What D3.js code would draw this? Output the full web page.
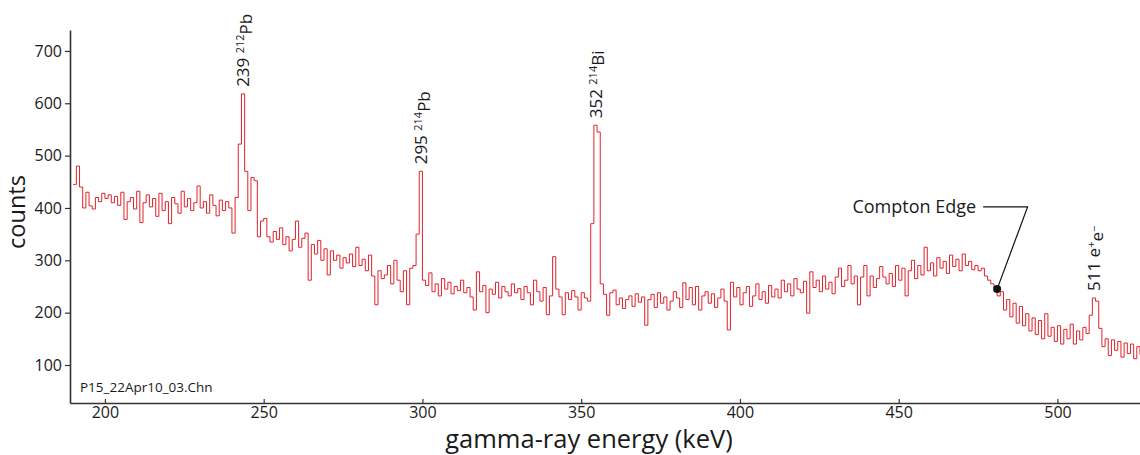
<!DOCTYPE html>
<html>
<head>
<meta charset="utf-8">
<script src="https://cdn.jsdelivr.net/npm/d3@7"></script>
<style>
  body { margin: 0; background: #fff; }
  text { font-family: "Open Sans", "Noto Sans", sans-serif; fill: #1a1a1a; }
</style>
</head>
<body>
<div id="chart"></div>
<script>
// spectrum: 1 keV bins, first bin starts at 190 keV
var startEnergy = 190;
var binWidth = 1;
var counts = [
  445, 480, 440, 400, 430, 404, 398, 420, 412, 428,  // 190
  418, 425, 410, 422, 405, 430, 378, 412, 420, 398,  // 200
  432, 372, 410, 425, 402, 418, 384, 428, 395, 412,  // 210
  370, 420, 408, 390, 432, 402, 418, 395, 410, 442,  // 220
  400, 412, 390, 425, 405, 385, 415, 395, 412, 400,  // 230
  352, 420, 522, 618, 470, 395, 458, 452, 345, 375,  // 240
  380, 345, 335, 355, 340, 362, 330, 345, 318, 340,  // 250
  375, 325, 342, 352, 262, 330, 312, 338, 300, 322,  // 260
  272, 318, 300, 310, 285, 305, 295, 312, 288, 325,  // 270
  290, 302, 280, 310, 270, 215, 280, 265, 272, 290,  // 280
  255, 300, 262, 240, 280, 215, 285, 290, 350, 470,  // 290
  262, 252, 276, 240, 255, 232, 265, 245, 258, 236,  // 300
  250, 242, 262, 238, 248, 230, 205, 278, 240, 252,  // 310
  200, 245, 235, 258, 228, 250, 240, 232, 255, 238,  // 320
  246, 225, 250, 238, 215, 262, 240, 222, 248, 196,  // 330
  232, 307, 245, 230, 196, 238, 225, 242, 230, 205,  // 340
  238, 228, 222, 370, 558, 545, 255, 235, 195, 238,  // 350
  243, 215, 228, 208, 225, 232, 212, 236, 220, 230,  // 360
  176, 225, 235, 210, 238, 218, 230, 205, 222, 240,  // 370
  228, 210, 257, 225, 248, 215, 250, 205, 232, 240,  // 380
  218, 236, 210, 228, 245, 222, 167, 258, 230, 248,  // 390
  215, 238, 250, 212, 232, 255, 225, 240, 218, 252,  // 400
  230, 245, 228, 262, 240, 255, 232, 265, 245, 238,  // 410
  260, 199, 278, 248, 262, 240, 270, 245, 258, 236,  // 420
  268, 285, 250, 262, 290, 255, 270, 215, 268, 290,  // 430
  232, 270, 248, 265, 288, 268, 255, 275, 250, 290,  // 440
  262, 285, 232, 280, 300, 265, 290, 272, 325, 280,  // 450
  295, 270, 305, 285, 298, 275, 310, 288, 302, 280,  // 460
  312, 290, 298, 282, 290, 280, 285, 270, 262, 255,  // 470
  248, 232, 240, 205, 225, 192, 218, 180, 212, 175,  // 480
  198, 165, 190, 158, 185, 150, 198, 155, 172, 145,  // 490
  175, 140, 168, 150, 178, 140, 165, 148, 172, 160,  // 500
  195, 228, 222, 170, 135, 150, 118, 148, 128, 145,  // 510
  115, 142, 122, 140, 112, 135, 120                  // 520
];

var xTicks = [200, 250, 300, 350, 400, 450, 500];
var yTicks = [100, 200, 300, 400, 500, 600, 700];

// peak labels: energy label, isotope mass, element, bin of the peak top
var peakNames = ["239", "295", "352", "511"];
var peakSups = ["212", "214", "214", null];
var peakElems = ["Pb", "Pb", "Bi", null];
var peakBins = [243, 299, 354, 511];

var comptonEdge = { energy: 481, counts: 245 };
var comptonElbow = { energy: 490.6, counts: 402 };
var comptonLabelEnd = { energy: 476.6, counts: 402 };

var W = 1140, H = 455;
var margin = { top: 30, right: 0, bottom: 52, left: 70 };

var svg = d3.select("#chart").append("svg")
  .attr("width", W)
  .attr("height", H);

var x = d3.scaleLinear().domain([189, 526]).range([margin.left, W - margin.right]);
var y = d3.scaleLinear().domain([27.4, 740]).range([H - margin.bottom, margin.top]);

var pts = counts.map(function(c, i) { return [startEnergy + i * binWidth, c]; });
pts.push([startEnergy + counts.length * binWidth, counts[counts.length - 1]]);

svg.append("defs").append("clipPath").attr("id", "plot")
  .append("rect")
  .attr("x", margin.left + 1).attr("y", 0)
  .attr("width", W - margin.left).attr("height", H - margin.bottom - 1);

var line = d3.line()
  .x(function(d) { return x(d[0]); })
  .y(function(d) { return y(d[1]); })
  .curve(d3.curveStepAfter);

svg.append("path")
  .datum(pts)
  .attr("clip-path", "url(#plot)")
  .attr("fill", "none")
  .attr("stroke", "#e0232b")
  .attr("stroke-width", 1)
  .attr("d", line);

// axes
var xAxis = d3.axisBottom(x).tickValues(xTicks).tickSize(-4).tickSizeOuter(0).tickPadding(4);
var yAxis = d3.axisLeft(y).tickValues(yTicks).tickSize(5).tickSizeOuter(0).tickPadding(3);

var gx = svg.append("g")
  .attr("transform", "translate(0," + (H - margin.bottom) + ")")
  .call(xAxis);
var gy = svg.append("g")
  .attr("transform", "translate(" + margin.left + ",0)")
  .call(yAxis);

[gx, gy].forEach(function(g) {
  g.select(".domain").attr("stroke", "#333").attr("stroke-width", 1.6);
  g.selectAll(".tick line").attr("stroke", "#333").attr("stroke-width", 1.2);
  g.selectAll(".tick text")
    .attr("fill", "#1a1a1a")
    .style("font-family", "'Open Sans', sans-serif")
    .style("font-size", "16px");
});

// axis titles
svg.append("text")
  .attr("x", 589)
  .attr("y", 448)
  .attr("text-anchor", "middle")
  .style("font-size", "25.5px")
  .text("gamma-ray energy (keV)");

svg.append("text")
  .attr("transform", "translate(25,212) rotate(-90)")
  .attr("text-anchor", "middle")
  .style("font-size", "23.5px")
  .text("counts");

svg.append("text")
  .attr("x", 80)
  .attr("y", 392)
  .attr("fill", "#333")
  .style("font-size", "13.5px")
  .text("P15_22Apr10_03.Chn");

// peak labels, rotated, above each peak
peakNames.forEach(function(name, i) {
  var b = peakBins[i];
  var px = x(b + binWidth / 2);
  var py = y(counts[b - startEnergy]) - 7;
  var t = svg.append("text")
    .attr("transform", "translate(" + px + "," + py + ") rotate(-90)")
    .attr("dy", "0.36em")
    .style("font-size", "17px");
  t.append("tspan").text(name + " ");
  if (peakSups[i]) {
    t.append("tspan").attr("dy", "-0.45em").style("font-size", "11px").text(peakSups[i]);
    t.append("tspan").attr("dy", "0.45em").text(peakElems[i]);
  } else {
    t.append("tspan").text("e");
    t.append("tspan").attr("dy", "-0.45em").style("font-size", "11px").text("+");
    t.append("tspan").attr("dy", "0.45em").text("e");
    t.append("tspan").attr("dy", "-0.45em").style("font-size", "11px").text("\u2212");
  }
});

// Compton edge annotation
svg.append("polyline")
  .attr("fill", "none")
  .attr("stroke", "#111")
  .attr("stroke-width", 1.2)
  .attr("points", [
    [x(comptonLabelEnd.energy), y(comptonLabelEnd.counts)],
    [x(comptonElbow.energy), y(comptonElbow.counts)],
    [x(comptonEdge.energy), y(comptonEdge.counts)]
  ].map(function(p) { return p.join(","); }).join(" "));

svg.append("circle")
  .attr("cx", x(comptonEdge.energy))
  .attr("cy", y(comptonEdge.counts))
  .attr("r", 4)
  .attr("fill", "#111");

svg.append("text")
  .attr("x", x(comptonLabelEnd.energy) - 7)
  .attr("y", y(comptonLabelEnd.counts) + 6)
  .attr("text-anchor", "end")
  .style("font-size", "18px")
  .text("Compton Edge");
</script>
</body>
</html>
